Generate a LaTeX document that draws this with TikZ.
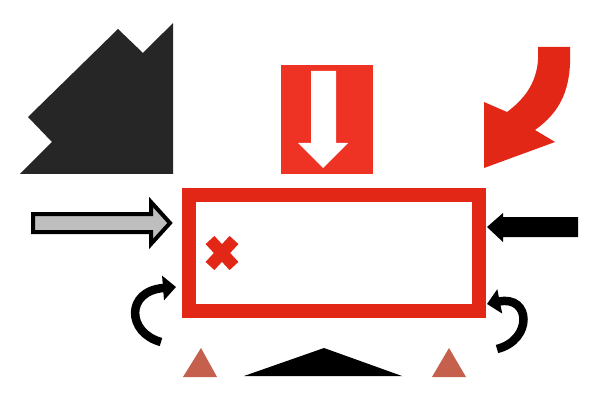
\documentclass[tikz,border=0pt]{standalone}
\usetikzlibrary{arrows.meta}
\definecolor{boxred}{RGB}{226,39,22}
\definecolor{sqred}{RGB}{238,50,36}
\definecolor{darkshape}{RGB}{38,38,38}
\definecolor{brick}{RGB}{197,96,76}
\definecolor{lightgray}{RGB}{190,190,190}
\tikzset{
  curvearrow/.style={line width=8.5pt,-{Triangle[width=24pt,length=13pt]}},
}
\begin{document}
\begin{tikzpicture}[x=1pt,y=-1pt]
\useasboundingbox (0,0) rectangle (600,401);
\fill[white] (0,0) rectangle (600,401);
% top-left dark shape
\fill[darkshape] (173,23) -- (143,53) -- (118,29) -- (28,117) -- (52,142) -- (20,174) -- (173,174) -- cycle;
% red square with down arrow
\fill[sqred] (281,65) rectangle (373,174);
\fill[white] (311,71) -- (336,71) -- (336,143) -- (348,143) -- (323,168) -- (298,143) -- (311,143) -- cycle;
% curved red arrow
\fill[boxred] (538,47) -- (570,47) .. controls (572,90) and (560,112) .. (535,130)
  -- (555,142) -- (484,168) -- (484,102) -- (507,112)
  .. controls (530,95) and (540,75) .. (538,47) -- cycle;
% gray arrow
\filldraw[fill=lightgray,draw=black,line width=4pt,line join=miter]
  (33,214) -- (151,214) -- (151,202) -- (170,223) -- (151,244) -- (151,232) -- (33,232) -- cycle;
% black arrow right
\fill[black] (578,217) -- (503,217) -- (503,213) -- (487,227) -- (503,242) -- (503,237) -- (578,237) -- cycle;
% main box
\node[draw=boxred,line width=14pt,minimum width=289.5pt,minimum height=116pt,inner sep=0pt,anchor=north west] (box) at (182,188) {};
% x mark
\draw[boxred,line width=12pt] (210,240) -- (234,266) (210,266) -- (234,240);
% curved black arrows
\coordinate (la) at (161,342);
\coordinate (lb) at (176,287);
\draw[curvearrow] (la) .. controls (127,333) and (125,291) .. (lb);
\coordinate (ra) at (497,349);
\coordinate (rb) at (487,304);
\draw[curvearrow] (ra) .. controls (533,340) and (531,295) .. (rb);
% bottom shapes
\fill[brick] (183,377) -- (217,377) -- (201,348) -- cycle;
\fill[brick] (432,377) -- (466,377) -- (449,348) -- cycle;
\fill[black] (244,376) -- (324,348) -- (402,376) -- cycle;
\end{tikzpicture}
\end{document}
